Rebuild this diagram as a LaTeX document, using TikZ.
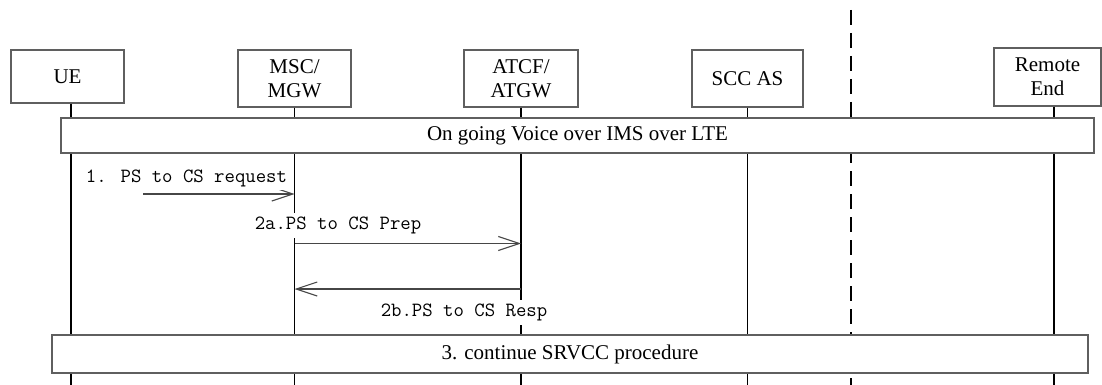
\documentclass[tikz,border=0pt]{standalone}
\usepackage{fontspec}
\setmainfont{Liberation Serif}
\usetikzlibrary{arrows.meta}
\definecolor{boxgray}{RGB}{95,95,95}
\definecolor{arrgray}{RGB}{70,70,70}
\begin{document}
\begin{tikzpicture}[x=1pt,y=-1pt,
  entity/.style={draw=boxgray, line width=1.1pt, fill=white, align=center, inner sep=0pt,
    font=\fontsize{21}{24}\selectfont},
  lifeline/.style={line width=1.8pt, draw=black},
  divider/.style={line width=1.8pt, draw=black, dash pattern=on 15pt off 8pt},
  band/.style={draw=boxgray, line width=1.1pt, fill=white, inner sep=0pt,
    font=\fontsize{21}{24}\selectfont},
  msg/.style={draw=arrgray, line width=1.1pt, -{Straight Barb[length=21pt,width=14pt]}},
  msglabel/.style={font=\ttfamily\fontsize{20.2}{24}\selectfont, inner xsep=0pt, inner ysep=4pt,
    anchor=base, fill=white}
]
\useasboundingbox (0,0) rectangle (1102,385);

% entities
\node[entity, minimum width=113pt, minimum height=53pt] (ue) at (67.5,76.5) {UE};
\node[entity, minimum width=113pt, minimum height=57pt] (msc) at (294.5,78.5) {MSC/\\MGW};
\node[entity, minimum width=114pt, minimum height=57pt] (atcf) at (521,78.5) {ATCF/\\ATGW};
\node[entity, minimum width=111pt, minimum height=57pt] (scc) at (747.5,78.5) {SCC AS};
\node[entity, minimum width=107pt, minimum height=58pt] (rem) at (1047.5,77) {Remote\\End};

% lifeline ends
\coordinate (ueB) at (70.7,385);
\coordinate (mscB) at (294.5,385);
\coordinate (atcfB) at (521,385);
\coordinate (sccB) at (747.5,385);
\coordinate (remB) at (1054,385);
\coordinate (dT) at (850.7,10);
\coordinate (dB) at (850.7,385);

\draw[lifeline] (ue.south -| ueB) -- (ueB);
\draw[lifeline] (msc.south -| mscB) -- (mscB);
\draw[lifeline] (atcf.south -| atcfB) -- (atcfB);
\draw[lifeline] (scc.south -| sccB) -- (sccB);
\draw[lifeline] (rem.south -| remB) -- (remB);
\draw[divider] (dT) -- (dB);

% bands
\node[band, minimum width=1033pt, minimum height=35pt] (vol) at (577.5,135.5) {On going Voice over IMS over LTE};
\node[band, minimum width=1036pt, minimum height=38pt] (srvcc) at (570,354) {3. continue SRVCC procedure};

% messages
\coordinate (m1s) at (143,194);
\coordinate (m1e) at (294.5,194);
\coordinate (m2as) at (294.5,243.5);
\coordinate (m2ae) at (521,243.5);
\coordinate (m2bs) at (521,289);
\coordinate (m2be) at (294.5,289);

\draw[msg] (m1s) -- (m1e);
\draw[msg] (m2as) -- (m2ae);
\draw[msg] (m2bs) -- (m2be);

\node[msglabel] (l1) at (186.5,182) {1. PS to CS request};
\node[msglabel] (l2a) at (338,229.5) {2a.PS to CS Prep};
\node[msglabel] (l2b) at (464,316.5) {2b.PS to CS Resp};
\end{tikzpicture}
\end{document}
